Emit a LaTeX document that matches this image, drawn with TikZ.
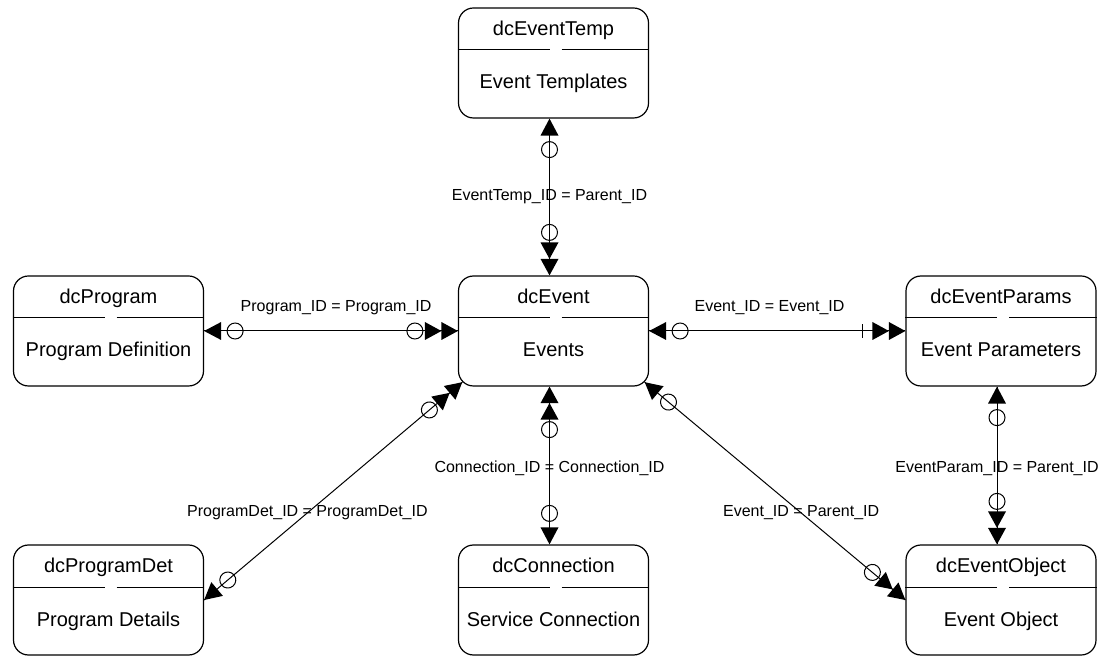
\documentclass[tikz,border=0pt]{standalone}
\usepackage{fontspec}
\setmainfont{Liberation Sans}
\usepackage{tikz}
\usetikzlibrary{decorations.markings}

\tikzset{
	entity/.style={draw, line width=0.6pt, rounded corners=7.5pt, minimum width=95pt, minimum height=55pt, inner sep=0pt},
	etext/.style={font=\fontsize{10}{12}\selectfont, inner sep=0pt, anchor=base},
	conn/.style={line width=0.5pt},
	rel/.style={font=\fontsize{8}{9.6}\selectfont, inner sep=0pt},
	% one side: single head + ring
	onestart/.style={postaction={decorate,decoration={markings,
		mark=at position 0.01pt with {\fill (0,0) -- (8.5pt,4.5pt) -- (8.5pt,-4.5pt) -- cycle;},
		mark=at position 15.5pt with {\draw (0,0) circle (4pt);}}}},
	% many side: ring + double head
	manyend/.style={postaction={decorate,decoration={markings,
		mark=at position -21.5pt with {\draw (0,0) circle (4pt);},
		mark=at position -8.25pt with {\fill (0,0) -- (-8.25pt,4.5pt) -- (-8.25pt,-4.5pt) -- cycle;},
		mark=at position -0.01pt with {\fill (0,0) -- (-8.25pt,4.5pt) -- (-8.25pt,-4.5pt) -- cycle;}}}},
	% many side: bar + double head
	barmanyend/.style={postaction={decorate,decoration={markings,
		mark=at position -21.5pt with {\draw (0,-3.5pt) -- (0,3.5pt);},
		mark=at position -8.25pt with {\fill (0,0) -- (-8.25pt,4.5pt) -- (-8.25pt,-4.5pt) -- cycle;},
		mark=at position -0.01pt with {\fill (0,0) -- (-8.25pt,4.5pt) -- (-8.25pt,-4.5pt) -- cycle;}}}}
}

\begin{document}
\begin{tikzpicture}[x=0.5pt,y=-0.5pt]
	\useasboundingbox (0,0) rectangle (1101,656);
	\foreach 
	\name/\x/\y/\title/\desc
	in
	{
		tmp/553.5/63/dcEventTemp/Event Templates,
		prog/108.5/331/dcProgram/Program Definition,
		evt/553.5/331/dcEvent/Events,
		par/1001/331/dcEventParams/Event Parameters,
		pdet/108.5/600/dcProgramDet/Program Details,
		con/553.5/600/dcConnection/Service Connection,
		obj/1001/600/dcEventObject/Event Object
	}
	{
		\node [entity] (\name) at (\x,\y) {};
		\node [etext] (\name-t) at ([yshift=13.8pt]\name.center) {\title};
		\node [etext] (\name-d) at ([yshift=-13pt]\name.center) {\desc};
		\draw [line width=0.5pt] ([yshift=6.5pt]\name.west) -- ([xshift=-2pt,yshift=6.5pt]\name.center);
		\draw [line width=0.5pt] ([xshift=4pt,yshift=6.5pt]\name.center) -- ([yshift=6.5pt]\name.east);
	}
	\draw [conn, onestart, manyend] ([xshift=-2pt]tmp.south) -- node [rel, pos=0.5] (r1) {EventTemp\_ID = Parent\_ID} ([xshift=-2pt]evt.north);
	\draw [conn, onestart, manyend] (prog.east) -- node [rel, pos=0.52, yshift=11.5pt] (r2) {Program\_ID = Program\_ID} (evt.west);
	\draw [conn, onestart, barmanyend] (evt.east) -- node [rel, pos=0.47, yshift=11.5pt] (r3) {Event\_ID = Event\_ID} (par.west);
	\draw [conn, onestart, manyend] (pdet.east) -- node [rel, pos=0.4] (r4) {ProgramDet\_ID = ProgramDet\_ID} ([shift={(2.2pt,2.2pt)}]evt.south west);
	\draw [conn, onestart, manyend] ([xshift=-2pt]con.north) -- node [rel, pos=0.48] (r5) {Connection\_ID = Connection\_ID} ([xshift=-2pt]evt.south);
	\draw [conn, onestart, manyend] ([shift={(-2.2pt,2.2pt)}]evt.south east) -- node [rel, pos=0.6] (r6) {Event\_ID = Parent\_ID} (obj.west);
	\draw [conn, onestart, manyend] ([xshift=-2pt]par.south) -- node [rel, pos=0.52] (r7) {EventParam\_ID = Parent\_ID} ([xshift=-2pt]obj.north);
\end{tikzpicture}
\end{document}
